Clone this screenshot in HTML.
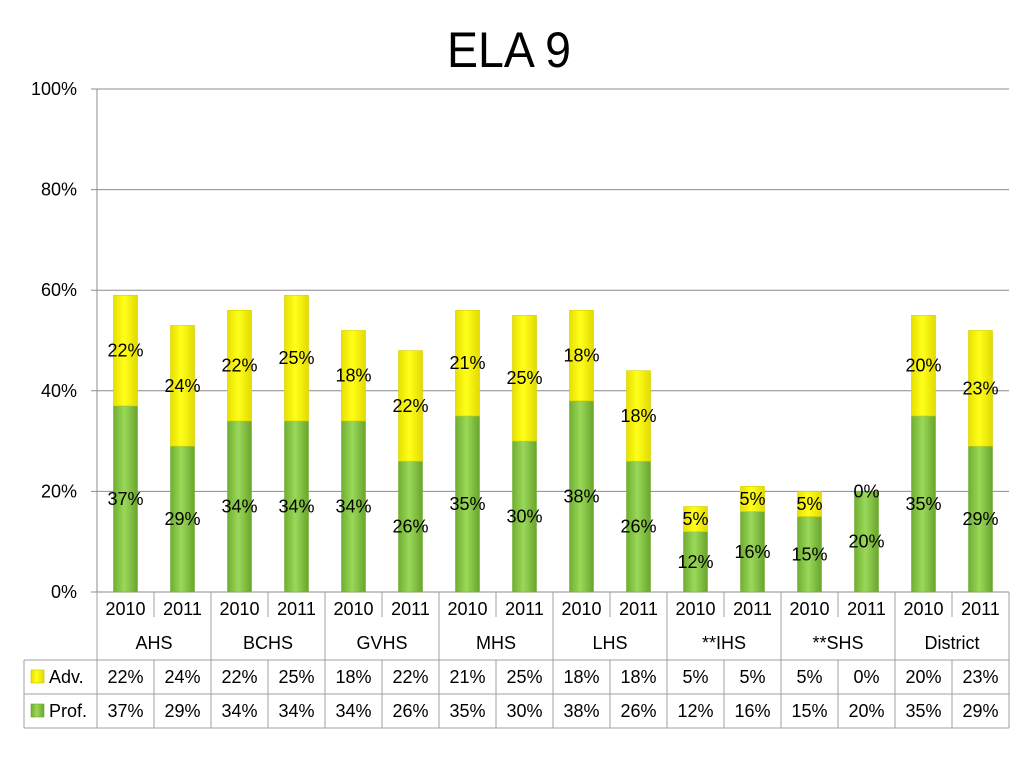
<!DOCTYPE html>
<html><head><meta charset="utf-8"><style>
html,body{margin:0;padding:0;background:#fff;width:1024px;height:768px;overflow:hidden}
svg text{font-family:"Liberation Sans",sans-serif;fill:#000}
</style></head><body>
<svg id="c" width="1024" height="768" xmlns="http://www.w3.org/2000/svg">
<defs>
<linearGradient id="gG" x1="0" x2="1" y1="0" y2="0"><stop offset="0" stop-color="#6fae30"/><stop offset="0.45" stop-color="#9ad85a"/><stop offset="1" stop-color="#6aa52c"/></linearGradient>
<linearGradient id="gY" x1="0" x2="1" y1="0" y2="0"><stop offset="0" stop-color="#e8e000"/><stop offset="0.45" stop-color="#ffff1a"/><stop offset="1" stop-color="#e2da00"/></linearGradient>
</defs>
<text x="509" y="67" font-size="50" text-anchor="middle" textLength="124" lengthAdjust="spacingAndGlyphs">ELA 9</text>
</svg>
<script>
const schools=["AHS","BCHS","GVHS","MHS","LHS","**IHS","**SHS","District"];
const years=["2010","2011"];
const adv=[22,24,22,25,18,22,21,25,18,18,5,5,5,0,20,23];
const prof=[37,29,34,34,34,26,35,30,38,26,12,16,15,20,35,29];
const yTicks=[0,20,40,60,80,100];
const svg=document.getElementById('c');
const NS='http://www.w3.org/2000/svg';
const X0=97,X1=1009,Y0=592,Y100=89;
const FS=18;
const colW=(X1-X0)/adv.length;
const y=v=>Y0-(v/100)*(Y0-Y100);
const cx=i=>X0+colW*(i+0.5);
function mk(tag,a,txt){const e=document.createElementNS(NS,tag);for(const k in a)e.setAttribute(k,a[k]);if(txt!==undefined)e.textContent=txt;svg.appendChild(e);return e;}
yTicks.forEach(t=>{
 const l=mk('line',{x1:X0-6,x2:X1,y1:y(t),y2:y(t),stroke:'#8c8c8c','stroke-width':1});
 
 
 const tx=mk('text',{x:77,y:y(t)+6,'font-size':FS,'text-anchor':'end'},t+'%');
 
 
});
const ax=mk('line',{x1:X0,x2:X0,y1:Y100,y2:Y0,stroke:'#8c8c8c'});


const bw=24;
adv.forEach((a,i)=>{
 const p=prof[i];
 const rp=mk('rect',{x:cx(i)-bw/2,y:y(p),width:bw,height:y(0)-y(p),fill:'url(#gG)',stroke:'#76b03a','stroke-width':0.6});
 
 
 const ra=mk('rect',{x:cx(i)-bw/2,y:y(p+a),width:bw,height:y(p)-y(p+a),fill:'url(#gY)',stroke:'#d8d000','stroke-width':0.6});
 
 
 const lp=mk('text',{x:cx(i),y:y(p/2)+6,'font-size':FS,'text-anchor':'middle'},p+'%');
 
 
 const la=mk('text',{x:cx(i),y:y(p+a/2)+6,'font-size':FS,'text-anchor':'middle'},a+'%');
 
 
});
const R=[592,626,660,694,728];
const g='#a0a0a0';
function ln(x1,y1,x2,y2,n){const l=mk('line',{x1,y1,x2,y2,stroke:g,'stroke-width':1});}
ln(X1,R[0],X1,R[4],'table-right-border');
ln(24,R[2],X1,R[2],'table-row-line');
ln(24,R[3],X1,R[3],'table-row-line');
ln(24,R[4],X1,R[4],'table-row-line');
ln(24,R[2],24,R[4],'table-left-border');
ln(X0,R[0],X0,R[4],'table-col-line');
for(let i=1;i<adv.length;i++){
 const x=X0+colW*i;
 if(i%2===0) ln(x,R[0],x,R[4],'table-group-line');
 else {ln(x,R[0],x,R[0]+25,'table-year-line');ln(x,R[2],x,R[4],'table-col-line');}
}
adv.forEach((a,i)=>{
 const t1=mk('text',{x:cx(i),y:R[0]+23,'font-size':FS,'text-anchor':'middle'},years[i%2]);
 
 
 const t2=mk('text',{x:cx(i),y:R[2]+23,'font-size':FS,'text-anchor':'middle'},a+'%');
 
 
 const t3=mk('text',{x:cx(i),y:R[3]+23,'font-size':FS,'text-anchor':'middle'},prof[i]+'%');
 
 
});
schools.forEach((s,k)=>{
 const t=mk('text',{x:X0+colW*(2*k+1),y:R[1]+23,'font-size':FS,'text-anchor':'middle'},s);
 
 
});
const k1=mk('rect',{x:31,y:670,width:13,height:13,fill:'url(#gY)',stroke:'#c8c000','stroke-width':0.6});


const l1=mk('text',{x:49,y:683,'font-size':FS},'Adv.');


const k2=mk('rect',{x:31,y:704,width:13,height:13,fill:'url(#gG)',stroke:'#6aa52c','stroke-width':0.6});


const l2=mk('text',{x:49,y:717,'font-size':FS},'Prof.');


</script>
</body></html>
